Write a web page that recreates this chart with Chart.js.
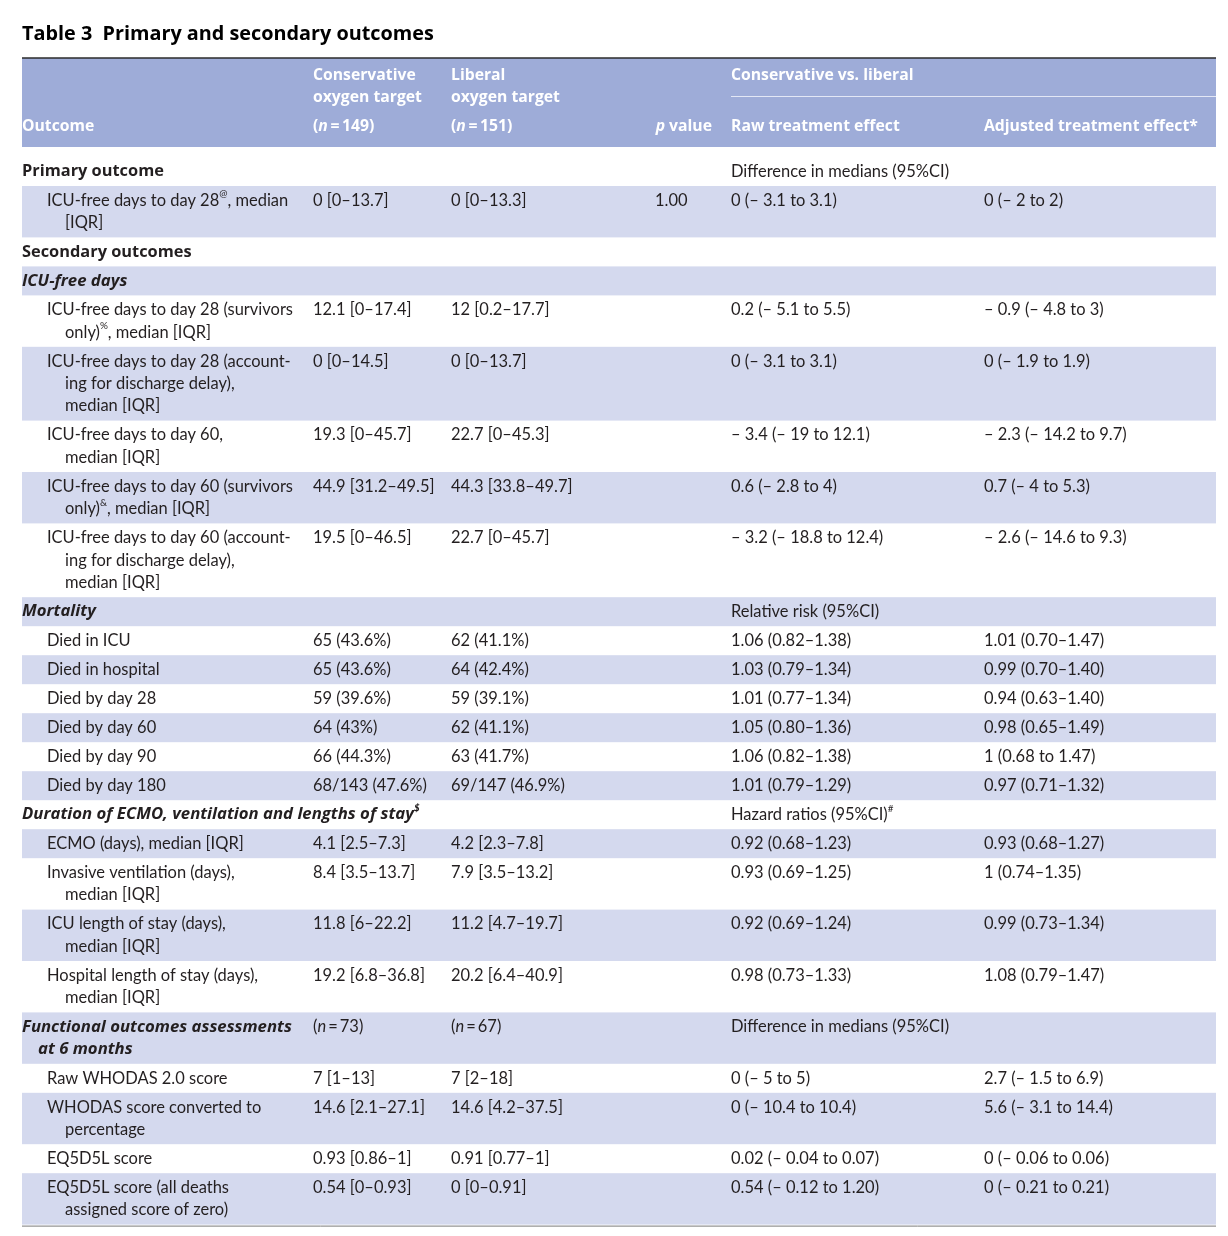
<!DOCTYPE html>
<html><head><meta charset="utf-8">
<script src="https://cdn.jsdelivr.net/npm/chart.js@4.4.1/dist/chart.umd.min.js"></script>
<style>html,body{margin:0;padding:0;background:#fff;}canvas{display:block;}</style>
</head><body>
<canvas id="c" width="1228" height="1236"></canvas>
<script>
// ---------------- DATA ----------------
const tableTitle = "Table 3  Primary and secondary outcomes";
const headerOutcome = "Outcome";
const headerConservative = ["Conservative", "oxygen target", "({i:n}\u2009=\u2009149)"];
const headerLiberal = ["Liberal", "oxygen target", "({i:n}\u2009=\u2009151)"];
const headerPValue = "{i:p} value";
const headerComparison = "Conservative vs. liberal";
const headerRaw = "Raw treatment effect";
const headerAdjusted = "Adjusted treatment effect*";

// row kinds: S = section (bold), G = group (bold italic), I = item
const rowKinds = ["S","I","S","G","I","I","I","I","I","G","I","I","I","I","I","I","G","I","I","I","I","G","I","I","I","I"];
const outcomes = [
  "Primary outcome",
  "ICU-free days to day 28{s:@}, median\n[IQR]",
  "Secondary outcomes",
  "ICU-free days",
  "ICU-free days to day 28 (survivors\nonly){s:%}, median [IQR]",
  "ICU-free days to day 28 (account-\ning for discharge delay),\nmedian [IQR]",
  "ICU-free days to day 60,\nmedian [IQR]",
  "ICU-free days to day 60 (survivors\nonly){s:&}, median [IQR]",
  "ICU-free days to day 60 (account-\ning for discharge delay),\nmedian [IQR]",
  "Mortality",
  "Died in ICU",
  "Died in hospital",
  "Died by day 28",
  "Died by day 60",
  "Died by day 90",
  "Died by day 180",
  "Duration of ECMO, ventilation and lengths of stay{s:$}",
  "ECMO (days), median [IQR]",
  "Invasive ventilation (days),\nmedian [IQR]",
  "ICU length of stay (days),\nmedian [IQR]",
  "Hospital length of stay (days),\nmedian [IQR]",
  "Functional outcomes assessments\nat 6 months",
  "Raw WHODAS 2.0 score",
  "WHODAS score converted to\npercentage",
  "EQ5D5L score",
  "EQ5D5L score (all deaths\nassigned score of zero)"
];
const conservative = ["", "0 [0–13.7]", "", "", "12.1 [0–17.4]", "0 [0–14.5]", "19.3 [0–45.7]", "44.9 [31.2–49.5]", "19.5 [0–46.5]", "",
  "65 (43.6%)", "65 (43.6%)", "59 (39.6%)", "64 (43%)", "66 (44.3%)", "68/143 (47.6%)", "",
  "4.1 [2.5–7.3]", "8.4 [3.5–13.7]", "11.8 [6–22.2]", "19.2 [6.8–36.8]", "({i:n}\u2009=\u200973)",
  "7 [1–13]", "14.6 [2.1–27.1]", "0.93 [0.86–1]", "0.54 [0–0.93]"];
const liberal = ["", "0 [0–13.3]", "", "", "12 [0.2–17.7]", "0 [0–13.7]", "22.7 [0–45.3]", "44.3 [33.8–49.7]", "22.7 [0–45.7]", "",
  "62 (41.1%)", "64 (42.4%)", "59 (39.1%)", "62 (41.1%)", "63 (41.7%)", "69/147 (46.9%)", "",
  "4.2 [2.3–7.8]", "7.9 [3.5–13.2]", "11.2 [4.7–19.7]", "20.2 [6.4–40.9]", "({i:n}\u2009=\u200967)",
  "7 [2–18]", "14.6 [4.2–37.5]", "0.91 [0.77–1]", "0 [0–0.91]"];
const pValues = ["", "1.00", "", "", "", "", "", "", "", "", "", "", "", "", "", "", "", "", "", "", "", "", "", "", "", ""];
const rawEffect = ["Difference in medians (95%CI)", "0 (– 3.1 to 3.1)", "", "", "0.2 (– 5.1 to 5.5)", "0 (– 3.1 to 3.1)",
  "– 3.4 (– 19 to 12.1)", "0.6 (– 2.8 to 4)", "– 3.2 (– 18.8 to 12.4)", "Relative risk (95%CI)",
  "1.06 (0.82–1.38)", "1.03 (0.79–1.34)", "1.01 (0.77–1.34)", "1.05 (0.80–1.36)", "1.06 (0.82–1.38)", "1.01 (0.79–1.29)",
  "Hazard ratios (95%CI){s:#}", "0.92 (0.68–1.23)", "0.93 (0.69–1.25)", "0.92 (0.69–1.24)", "0.98 (0.73–1.33)",
  "Difference in medians (95%CI)", "0 (– 5 to 5)", "0 (– 10.4 to 10.4)", "0.02 (– 0.04 to 0.07)", "0.54 (– 0.12 to 1.20)"];
const adjustedEffect = ["", "0 (– 2 to 2)", "", "", "– 0.9 (– 4.8 to 3)", "0 (– 1.9 to 1.9)",
  "– 2.3 (– 14.2 to 9.7)", "0.7 (– 4 to 5.3)", "– 2.6 (– 14.6 to 9.3)", "",
  "1.01 (0.70–1.47)", "0.99 (0.70–1.40)", "0.94 (0.63–1.40)", "0.98 (0.65–1.49)", "1 (0.68 to 1.47)", "0.97 (0.71–1.32)",
  "", "0.93 (0.68–1.27)", "1 (0.74–1.35)", "0.99 (0.73–1.34)", "1.08 (0.79–1.47)",
  "", "2.7 (– 1.5 to 6.9)", "5.6 (– 3.1 to 14.4)", "0 (– 0.06 to 0.06)", "0 (– 0.21 to 0.21)"];

// ---------------- LAYOUT / STYLE ----------------
const REG_FAMILY = "Lato, 'Open Sans', sans-serif";
const BOLD_FAMILY = "'Open Sans', Lato, sans-serif";
const LINE = 22.4, PAD = 6.6;
const HEADER_H = 89, BODY_START = 99;
const TABLE_W = 1194;
const COL = {label: 0, cons: 291, lib: 429, p: 633, pRight: 690, raw: 709, adj: 962};
const HEADER_BG = "#9eacd8", STRIPE = "#d4d9ee", INK = "#231f20";

function fontStr(w, it, size){
  return (it ? "italic " : "") + w + " " + size + "px " + (w === 'bold' ? BOLD_FAMILY : REG_FAMILY);
}
// calibrate font sizes so sample strings match the reference's measured widths
const mctx = document.createElement('canvas').getContext('2d');
function fit(sample, w, it, target){ mctx.font = fontStr(w, it, 100); return 100 * target / mctx.measureText(sample).width; }
const BODY_SIZE = Math.min(16.8, fit("ICU-free days to day 28 (survivors", 'normal', false, 246));
const TITLE_SIZE = fit("Table 3  Primary and secondary outcomes", 'bold', false, 412);
const HEAD_SIZE = fit("Adjusted treatment effect*", 'bold', false, 214);
const SECTION_SIZE = fit("Primary outcome", 'bold', false, 142);
const GROUP_SIZE = fit("Functional outcomes assessments", 'bold', true, 270);

// row geometry (in table units) derived from line counts
const rowLines = outcomes.map(s => s.split("\n").length);
const rowTops = [];
let acc = BODY_START;
rowLines.forEach(n => { rowTops.push(acc); acc += PAD + LINE * n; });
const TABLE_END = acc + 1;

function parseRich(str){
  const out = []; const re = /\{([is]):([^}]*)\}/g; let last = 0, m;
  while ((m = re.exec(str))){ if (m.index > last) out.push({t: str.slice(last, m.index)}); out.push({t: m[2], k: m[1]}); last = re.lastIndex; }
  if (last < str.length) out.push({t: str.slice(last)});
  return out;
}
function richWidth(ctx, str, w, it, size){
  let tot = 0;
  for (const p of parseRich(str)){
    const s = p.k === 's' ? size * 0.6 : size;
    ctx.font = fontStr(w, it || p.k === 'i', s); tot += ctx.measureText(p.t).width;
  }
  return tot;
}
function drawRich(ctx, str, x, y, w, it, size, color, align){
  if (align === 'right') x -= richWidth(ctx, str, w, it, size);
  ctx.fillStyle = color; ctx.textBaseline = 'middle'; ctx.textAlign = 'left';
  for (const p of parseRich(str)){
    const sup = p.k === 's'; const s = sup ? size * 0.6 : size;
    ctx.font = fontStr(w, it || p.k === 'i', s);
    ctx.fillText(p.t, x, sup ? y - size * 0.38 : y);
    x += ctx.measureText(p.t).width;
  }
}

const tablePlugin = {
  id: 'tablePlugin',
  afterDraw(chart){
    const ctx = chart.ctx, xs = chart.scales.x, ys = chart.scales.y;
    const X = v => xs.getPixelForValue(v), Y = v => ys.getPixelForValue(v);
    ctx.save();
    // title
    drawRich(ctx, tableTitle, X(0), Y(-23.5), 'bold', false, TITLE_SIZE, '#000');
    // header band
    ctx.fillStyle = HEADER_BG; ctx.fillRect(X(0), Y(0), X(TABLE_W) - X(0), Y(HEADER_H) - Y(0));
    ctx.strokeStyle = '#2b2b2b'; ctx.lineWidth = 1.5;
    ctx.beginPath(); ctx.moveTo(X(0), Y(0)); ctx.lineTo(X(TABLE_W), Y(0)); ctx.stroke();
    ctx.strokeStyle = '#e3e7f5'; ctx.lineWidth = 1;
    ctx.beginPath(); ctx.moveTo(X(COL.raw), Y(38) + 0.5); ctx.lineTo(X(TABLE_W), Y(38) + 0.5); ctx.stroke();
    const hy = [17.5, 39.5, 69];
    const W = '#ffffff';
    drawRich(ctx, headerOutcome, X(COL.label), Y(hy[2]), 'bold', false, HEAD_SIZE, W);
    headerConservative.forEach((t, i) => drawRich(ctx, t, X(COL.cons), Y(hy[i]), 'bold', false, HEAD_SIZE, W));
    headerLiberal.forEach((t, i) => drawRich(ctx, t, X(COL.lib), Y(hy[i]), 'bold', false, HEAD_SIZE, W));
    drawRich(ctx, headerPValue, X(COL.pRight), Y(hy[2]), 'bold', false, HEAD_SIZE, W, 'right');
    drawRich(ctx, headerComparison, X(COL.raw), Y(hy[0]), 'bold', false, HEAD_SIZE, W);
    drawRich(ctx, headerRaw, X(COL.raw), Y(hy[2]), 'bold', false, HEAD_SIZE, W);
    drawRich(ctx, headerAdjusted, X(COL.adj), Y(hy[2]), 'bold', false, HEAD_SIZE, W);
    // body
    outcomes.forEach((label, i) => {
      const top = rowTops[i], h = PAD + LINE * rowLines[i];
      if (i % 2 === 1){ ctx.fillStyle = STRIPE; ctx.fillRect(X(0), Y(top), X(TABLE_W) - X(0), Y(top + h) - Y(top)); }
      const kind = rowKinds[i];
      const bold = kind !== 'I' ? 'bold' : 'normal';
      const ital = kind === 'G';
      const lsize = kind === 'I' ? BODY_SIZE : (kind === 'G' ? GROUP_SIZE : SECTION_SIZE);
      const y0 = top + PAD / 2 + LINE / 2;
      label.split("\n").forEach((ln, j) => {
        const x = kind === 'I' ? (j === 0 ? 25 : 43) : (j === 0 ? 0 : 16);
        drawRich(ctx, ln, X(COL.label + x), Y(y0 + j * LINE), bold, ital, lsize, INK);
      });
      const cells = [[conservative[i], COL.cons], [liberal[i], COL.lib], [pValues[i], COL.p], [rawEffect[i], COL.raw], [adjustedEffect[i], COL.adj]];
      cells.forEach(([t, c]) => { if (t) drawRich(ctx, t, X(c), Y(y0), 'normal', false, BODY_SIZE, INK); });
    });
    ctx.strokeStyle = '#7a7a7a'; ctx.lineWidth = 1;
    ctx.beginPath(); ctx.moveTo(X(0), Y(TABLE_END) + 0.5); ctx.lineTo(X(TABLE_W), Y(TABLE_END) + 0.5); ctx.stroke();
    ctx.restore();
  }
};

new Chart(document.getElementById('c'), {
  type: 'scatter',
  data: { datasets: [{ data: [] }] },
  options: {
    responsive: false, animation: false, devicePixelRatio: 1,
    layout: { padding: { left: 22, right: 12, top: 58, bottom: 8 } },
    plugins: { legend: { display: false }, tooltip: { enabled: false }, title: { display: false } },
    scales: {
      x: { type: 'linear', min: 0, max: TABLE_W, display: false },
      y: { type: 'linear', min: 0, max: 1170, reverse: true, display: false }
    }
  },
  plugins: [tablePlugin]
});
</script>
</body></html>
